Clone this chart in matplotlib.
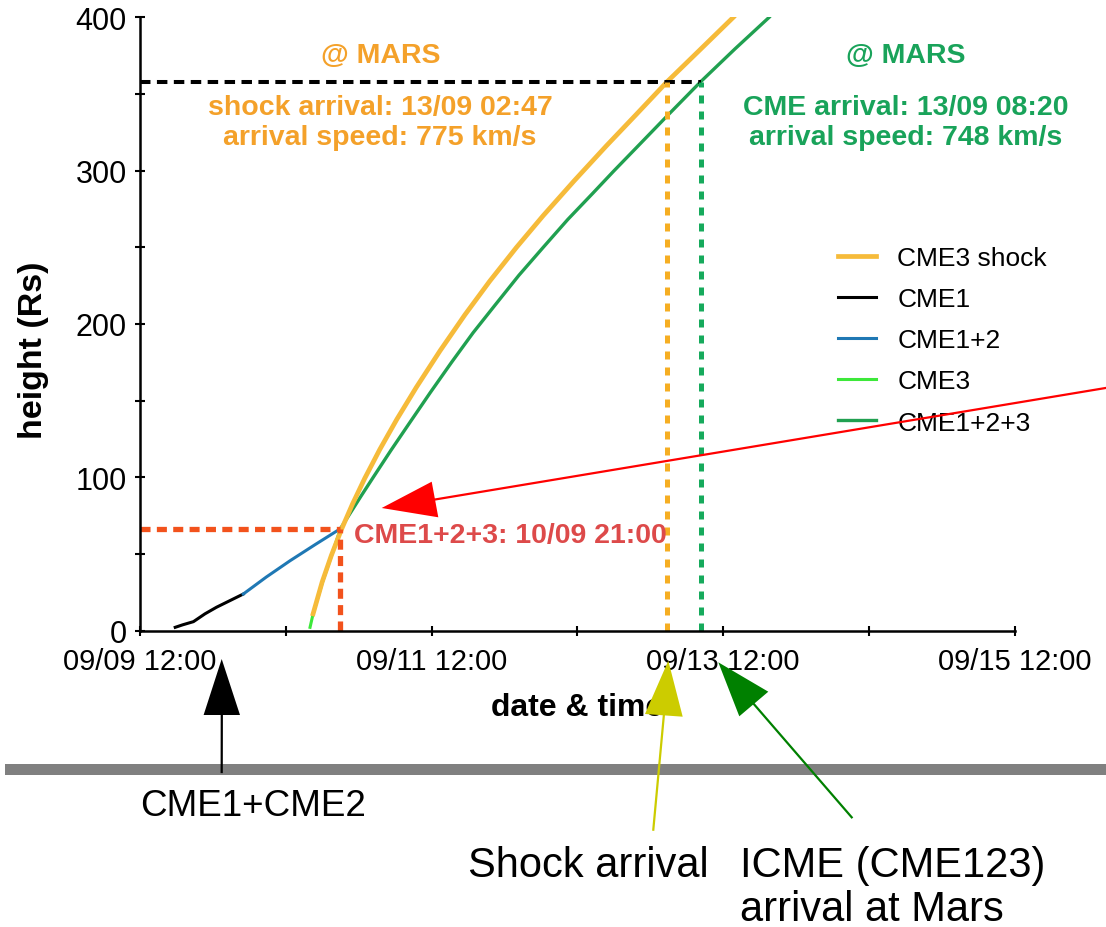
import numpy as np
import pandas as pd
import matplotlib
matplotlib.use('Agg')
import matplotlib.pyplot as plt
import matplotlib.dates as mdates
from matplotlib.patches import Polygon, Rectangle
from matplotlib.lines import Line2D

plt.rcParams['font.family'] = ['Liberation Sans', 'DejaVu Sans']

# kinematics of the Sept 2017 CMEs, hours after 09/09 12:00 UT vs height in Rs
t0 = pd.Timestamp('2017-09-09 12:00')

cme1_hours = [5.8, 7.0, 8.8, 10.7, 12.6, 14.8, 17.0]
cme1_height = [2.2, 3.8, 5.9, 11.0, 15.3, 19.6, 23.9]

cme12_hours = [17.0, 20.8, 24.7, 28.9, 33.0]
cme12_height = [23.9, 35.0, 45.6, 56.3, 66.5]

cme3_hours = [28.0, 28.5, 30.0, 31.5, 33.0]
cme3_height = [2.2, 10.9, 31.0, 48.5, 66.5]

shock_hours = [28.5, 30.0, 31.5, 33.2, 35.0, 37.0, 39.5, 42.3, 45.5, 49.4,
               53.5, 57.6, 62.0, 66.4, 71.5, 76.8, 81.8, 86.8, 92.0, 97.7]
shock_height = [11.0, 31.8, 49.0, 66.3, 82.7, 99.3, 118.3, 137.9, 158.7, 182.5,
                206.0, 228.0, 250.0, 270.7, 293.4, 316.2, 337.0, 358.0, 378.0, 400.0]

cme123_hours = [33.0, 34.35, 36.4, 38.4, 41.3, 44.3, 47.8, 51.3, 54.85, 58.4,
                62.4, 66.4, 70.45, 74.5, 78.0, 81.5, 86.9, 92.33, 98.0, 103.6]
cme123_height = [66.5, 75.0, 87.8, 100.0, 117.5, 135.0, 155.3, 175.0, 194.3, 212.0,
                 231.8, 250.0, 268.2, 285.0, 299.7, 314.0, 336.1, 358.0, 379.5, 400.0]

mars_height = 358
merge_time = pd.Timestamp('2017-09-10 21:00')
merge_height = 66.5
shock_arrival = pd.Timestamp('2017-09-13 02:47')
cme_arrival = pd.Timestamp('2017-09-13 08:20')
shock_speed = 775
cme_speed = 748


def when(hours):
    return t0 + pd.to_timedelta(hours, unit='h')


W, H = 1106, 928


def px(x, y):
    # pixel position (from top left) -> figure fraction
    return x / W, 1 - y / H


fig = plt.figure(figsize=(W / 100, H / 100), dpi=100)
ax = fig.add_axes([140 / W, 1 - 631.7 / H, (1014.5 - 140) / W, (631.7 - 18.3) / H])

c_shock = '#f6bb3a'
c_green = '#20a050'
c_orange_txt = '#f4a12a'
c_green_txt = '#19a35a'

l1, = ax.plot(when(cme1_hours), cme1_height, color='black', lw=2.2, label='CME1')
l2, = ax.plot(when(cme12_hours), cme12_height, color='#1f78b4', lw=2.2, label='CME1+2')
l3, = ax.plot(when(cme3_hours), cme3_height, color='#3de83a', lw=2.2, label='CME3')
l4, = ax.plot(when(cme123_hours), cme123_height, color=c_green, lw=2.4, label='CME1+2+3')
l0, = ax.plot(when(shock_hours), shock_height, color=c_shock, lw=3.4, label='CME3 shock')

# arrival and merging markers
ax.plot([t0, cme_arrival], [mars_height, mars_height], color='black', lw=2.9,
        dashes=(2.6, 1.6), solid_capstyle='butt')
ax.plot([shock_arrival, shock_arrival], [0, mars_height], color='#f6ae22', lw=3.6,
        dashes=(1.6, 1.6))
ax.plot([cme_arrival, cme_arrival], [0, mars_height], color='#16aa5c', lw=3.6,
        dashes=(1.6, 1.6))
ax.plot([t0, merge_time], [merge_height, merge_height], color='#f2521c', lw=3.8,
        dashes=(1.9, 1.2))
ax.plot([merge_time, merge_time], [0, merge_height], color='#f2521c', lw=3.8,
        dashes=(1.9, 1.2))

ax.set_xlim(t0, t0 + pd.Timedelta(days=6))
ax.set_ylim(0, 400)
ax.xaxis.set_major_locator(plt.FixedLocator(mdates.date2num(
    [t0 + pd.Timedelta(days=d) for d in (0, 2, 4, 6)])))
ax.xaxis.set_minor_locator(plt.FixedLocator(mdates.date2num(
    [t0 + pd.Timedelta(days=d) for d in (1, 3, 5)])))
ax.xaxis.set_major_formatter(mdates.DateFormatter('%m/%d %H:%M'))
ax.set_yticks([0, 100, 200, 300, 400])
ax.set_yticks([50, 150, 250, 350], minor=True)

for s in ('top', 'right'):
    ax.spines[s].set_visible(False)
for s in ('left', 'bottom'):
    ax.spines[s].set_linewidth(1.8)
ax.tick_params(which='both', direction='inout', length=7, width=1.5)
ax.tick_params(axis='x', labelsize=21, pad=8)
ax.tick_params(axis='y', labelsize=22, pad=6)

ax.set_xlabel('date & time', fontsize=23, fontweight='bold', va='baseline')
ax.xaxis.set_label_coords((577 - 140) / (1014.5 - 140), -(716 - 631.7) / (631.7 - 18.3))
ax.set_ylabel('height (Rs)', fontsize=24.5, fontweight='bold', va='center')
ax.yaxis.set_label_coords(-(140 - 34) / (1014.5 - 140), (631.7 - 350) / (631.7 - 18.3))

ax.legend(handles=[l0, l1, l2, l3, l4], loc='upper left',
          bbox_to_anchor=px(838, 247), bbox_transform=fig.transFigure,
          frameon=False, fontsize=19, handlelength=1.45, handletextpad=0.8,
          labelspacing=0.65, borderpad=0, borderaxespad=0)

# arrival annotations
bold = dict(fontsize=20.5, fontweight='bold', ha='center', multialignment='center')
fig.text(*px(381, 62.7), '@ MARS', color=c_orange_txt, va='baseline', **bold)
fig.text(*px(380, 95),
         f'shock arrival: {shock_arrival:%d/%m %H:%M}\narrival speed: {shock_speed} km/s',
         color=c_orange_txt, va='top', linespacing=1.2, **bold)
fig.text(*px(905.5, 62.7), '@ MARS', color=c_green_txt, va='baseline', **bold)
fig.text(*px(905.5, 95),
         f'CME arrival: {cme_arrival:%d/%m %H:%M}\narrival speed: {cme_speed} km/s',
         color=c_green_txt, va='top', linespacing=1.2, **bold)
fig.text(*px(354, 542.7), f'CME1+2+3: {merge_time:%d/%m %H:%M}', color='#dd4a4a',
         fontsize=20.5, fontweight='bold', va='baseline', ha='left')

# separator bar and pointer arrows below the plot
fig.add_artist(Rectangle(px(5, 776), (W - 5) / W, 11 / H, transform=fig.transFigure,
                         color='#808080', lw=0, zorder=3))


def arrow(tail, tip, c1, c2, color, lw=1.6):
    base = ((c1[0] + c2[0]) / 2, (c1[1] + c2[1]) / 2)
    fig.add_artist(Line2D([px(*tail)[0], px(*base)[0]], [px(*tail)[1], px(*base)[1]],
                          transform=fig.transFigure, color=color, lw=lw, zorder=5))
    fig.add_artist(Polygon([px(*tip), px(*c1), px(*c2)], closed=True,
                           transform=fig.transFigure, color=color, lw=0, zorder=5))


arrow((1120, 386.6), (381.7, 509), (431.7, 482.7), (438.3, 518.3), '#ff0000')
arrow((221.7, 773), (221.7, 660), (203.6, 716), (240, 716), 'black')
arrow((653.3, 830.7), (668.3, 661.7), (645, 715), (682.7, 717.7), '#cccc00')
arrow((851.7, 818.3), (718.3, 663.3), (739.3, 717.3), (768.3, 692.7), '#008000')

fig.text(*px(253, 816), 'CME1+CME2', fontsize=26.5, ha='center', va='baseline')
fig.text(*px(468.3, 876.7), 'Shock arrival', fontsize=30, ha='left', va='baseline')
fig.text(*px(740, 876.7), 'ICME (CME123)', fontsize=30, ha='left', va='baseline')
fig.text(*px(740, 921), 'arrival at Mars', fontsize=30, ha='left', va='baseline')

fig.savefig('out.png', dpi=100)
